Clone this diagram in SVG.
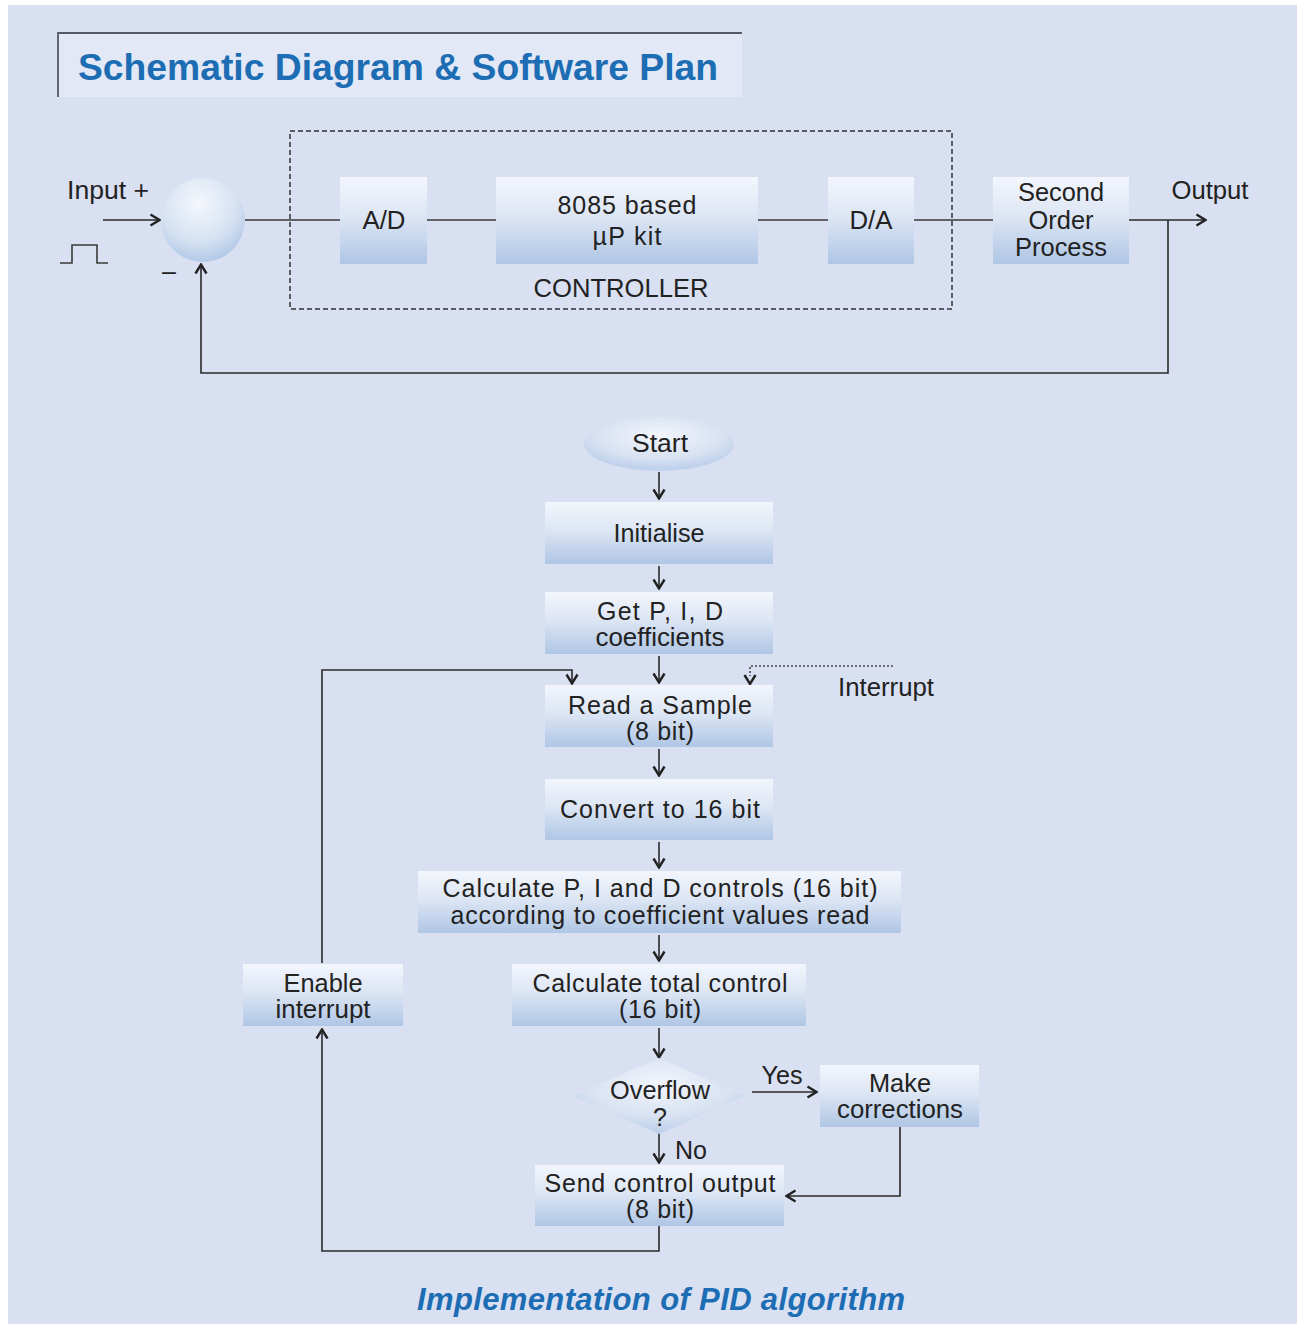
<svg xmlns="http://www.w3.org/2000/svg" width="1297" height="1324" viewBox="0 0 1297 1324">
<defs>
<linearGradient id="box" x1="0" y1="0" x2="0" y2="1">
<stop offset="0" stop-color="#f3f6fc"/>
<stop offset="0.45" stop-color="#dde6f4"/>
<stop offset="1" stop-color="#afc6e5"/>
</linearGradient>
<radialGradient id="ball" cx="0.45" cy="0.3" r="0.75">
<stop offset="0" stop-color="#f4f7fc"/>
<stop offset="0.6" stop-color="#d6e2f2"/>
<stop offset="1" stop-color="#aac4e6"/>
</radialGradient>
<radialGradient id="oval" cx="0.5" cy="0.35" r="0.6">
<stop offset="0" stop-color="#f3f6fc"/>
<stop offset="0.7" stop-color="#d8e2f2"/>
<stop offset="1" stop-color="#c0d2ec"/>
</radialGradient>
<marker id="ah" viewBox="0 0 12 14" refX="11" refY="7" markerWidth="12" markerHeight="14" markerUnits="userSpaceOnUse" orient="auto">
<path d="M1.5,1.5 L10.5,7 L1.5,12.5" fill="none" stroke="#222" stroke-width="2.4"/>
</marker>
</defs>
<style>
.t{font-family:"Liberation Sans",Arial,sans-serif;font-size:25px;fill:#222;text-anchor:middle}
.ln{fill:none;stroke:#3a3a3a;stroke-width:1.6}
.ar{fill:none;stroke:#2a2a2a;stroke-width:1.6;marker-end:url(#ah)}
.bx{fill:url(#box)}
</style>
<rect x="0" y="0" width="1297" height="1324" fill="#ffffff"/>
<rect x="8" y="5" width="1289" height="1319" fill="#d9e0f1"/>

<g id="title">
<rect x="58" y="33" width="684" height="64" fill="#e2e8f5"/>
<path d="M58,97 L58,33 L742,33" fill="none" stroke="#555a66" stroke-width="1.8"/>
<text x="398" y="80" font-family="Liberation Sans,Arial,sans-serif" font-weight="bold" font-size="37" fill="#1c6db4" text-anchor="middle" textLength="640" lengthAdjust="spacingAndGlyphs">Schematic Diagram &amp; Software Plan</text>
</g>

<g id="connectors">
<line class="ar" x1="103" y1="220" x2="160" y2="220"/>
<path class="ln" d="M60,263 L72,263 L72,245 L97,245 L97,263 L108,263"/>
<line class="ln" x1="245" y1="220" x2="340" y2="220"/>
<line class="ln" x1="427" y1="220" x2="496" y2="220"/>
<line class="ln" x1="758" y1="220" x2="828" y2="220"/>
<line class="ln" x1="914" y1="220" x2="993" y2="220"/>
<line class="ar" x1="1129" y1="220" x2="1206" y2="220"/>
<path class="ar" d="M1168,220 L1168,373 L201,373 L201,264"/>
<rect x="290" y="131" width="662" height="178" fill="none" stroke="#333" stroke-width="1.5" stroke-dasharray="5,3"/>

<line class="ar" x1="659" y1="472" x2="659" y2="499"/>
<line class="ar" x1="659" y1="566" x2="659" y2="589"/>
<line class="ar" x1="659" y1="656" x2="659" y2="683"/>
<path class="ar" d="M322,963 L322,670 L572,670 L572,684"/>
<path fill="none" stroke="#444" stroke-width="1.6" stroke-dasharray="2,2" d="M893,666 L750,666 L750,676"/>
<path fill="none" stroke="#222" stroke-width="2.4" d="M744.5,675 L750,684 L755.5,675"/>
<line class="ar" x1="659" y1="749" x2="659" y2="776"/>
<line class="ar" x1="659" y1="842" x2="659" y2="868"/>
<line class="ar" x1="659" y1="935" x2="659" y2="961"/>
<line class="ar" x1="659" y1="1028" x2="659" y2="1058"/>
<line class="ar" x1="752" y1="1092" x2="817" y2="1092"/>
<path class="ar" d="M900,1127 L900,1196 L786,1196"/>
<line class="ar" x1="659" y1="1133" x2="659" y2="1163"/>
<path class="ar" d="M659,1226 L659,1251 L322,1251 L322,1029"/>
</g>

<g id="input-label">
<text class="t" x="108" y="199" textLength="82" lengthAdjust="spacingAndGlyphs">Input +</text>
<text class="t" x="169" y="280">–</text>
</g>
<g id="summer"><circle cx="203" cy="220" r="42" fill="url(#ball)"/></g>
<g id="ad"><rect class="bx" x="340" y="177" width="87" height="87"/><text class="t" x="384" y="229" textLength="43" lengthAdjust="spacingAndGlyphs">A/D</text></g>
<g id="kit"><rect class="bx" x="496" y="177" width="262" height="87"/>
<text class="t" x="627" y="214" textLength="139" lengthAdjust="spacing">8085 based</text>
<text class="t" x="627" y="245" textLength="69" lengthAdjust="spacing">µP kit</text></g>
<g id="controller-label"><text class="t" x="621" y="297" textLength="175" lengthAdjust="spacingAndGlyphs">CONTROLLER</text></g>
<g id="da"><rect class="bx" x="828" y="177" width="86" height="87"/><text class="t" x="871" y="229" textLength="43" lengthAdjust="spacingAndGlyphs">D/A</text></g>
<g id="process"><rect class="bx" x="993" y="177" width="136" height="87"/>
<text class="t" x="1061" y="201" textLength="86" lengthAdjust="spacingAndGlyphs">Second</text>
<text class="t" x="1061" y="229" textLength="65" lengthAdjust="spacingAndGlyphs">Order</text>
<text class="t" x="1061" y="256" textLength="92" lengthAdjust="spacingAndGlyphs">Process</text></g>
<g id="output-label"><text class="t" x="1210" y="199" textLength="77" lengthAdjust="spacingAndGlyphs">Output</text></g>

<g id="start"><ellipse cx="659" cy="444" rx="75" ry="27" fill="url(#oval)"/><text class="t" x="660" y="452" textLength="56" lengthAdjust="spacingAndGlyphs">Start</text></g>
<g id="init"><rect class="bx" x="545" y="502" width="228" height="62"/><text class="t" x="659" y="542" textLength="91" lengthAdjust="spacingAndGlyphs">Initialise</text></g>
<g id="getpid"><rect class="bx" x="545" y="592" width="228" height="62"/>
<text class="t" x="660" y="620" textLength="126" lengthAdjust="spacing">Get P, I, D</text>
<text class="t" x="660" y="646" textLength="129" lengthAdjust="spacingAndGlyphs">coefficients</text></g>
<g id="read"><rect class="bx" x="545" y="685" width="228" height="62"/>
<text class="t" x="660" y="714" textLength="184" lengthAdjust="spacing">Read a Sample</text>
<text class="t" x="660" y="740" textLength="68" lengthAdjust="spacing">(8 bit)</text></g>
<g id="interrupt-label"><text class="t" x="886" y="696" textLength="96" lengthAdjust="spacingAndGlyphs">Interrupt</text></g>
<g id="convert"><rect class="bx" x="545" y="779" width="228" height="61"/>
<text class="t" x="660" y="818" textLength="200" lengthAdjust="spacing">Convert to 16 bit</text></g>
<g id="calcpid"><rect class="bx" x="418" y="871" width="483" height="62"/>
<text class="t" x="660" y="897" textLength="435" lengthAdjust="spacing">Calculate P, I and D controls (16 bit)</text>
<text class="t" x="660" y="924" textLength="419" lengthAdjust="spacing">according to coefficient values read</text></g>
<g id="total"><rect class="bx" x="512" y="964" width="294" height="62"/>
<text class="t" x="660" y="992" textLength="255" lengthAdjust="spacing">Calculate total control</text>
<text class="t" x="660" y="1018" textLength="82" lengthAdjust="spacing">(16 bit)</text></g>
<g id="enable"><rect class="bx" x="243" y="964" width="160" height="62"/>
<text class="t" x="323" y="992" textLength="79" lengthAdjust="spacingAndGlyphs">Enable</text>
<text class="t" x="323" y="1018" textLength="95" lengthAdjust="spacingAndGlyphs">interrupt</text></g>
<g id="overflow"><path d="M659,1058 L745,1096 L659,1134 L573,1096 Z" fill="url(#oval)"/>
<text class="t" x="660" y="1099" textLength="100" lengthAdjust="spacingAndGlyphs">Overflow</text>
<text class="t" x="660" y="1126">?</text></g>
<g id="yes-label"><text class="t" x="782" y="1084" textLength="41" lengthAdjust="spacingAndGlyphs">Yes</text></g>
<g id="make"><rect class="bx" x="820" y="1065" width="159" height="62"/>
<text class="t" x="900" y="1092" textLength="62" lengthAdjust="spacingAndGlyphs">Make</text>
<text class="t" x="900" y="1118" textLength="126" lengthAdjust="spacingAndGlyphs">corrections</text></g>
<g id="no-label"><text class="t" x="691" y="1159" textLength="32" lengthAdjust="spacingAndGlyphs">No</text></g>
<g id="send"><rect class="bx" x="535" y="1165" width="249" height="61"/>
<text class="t" x="660" y="1192" textLength="231" lengthAdjust="spacing">Send control output</text>
<text class="t" x="660" y="1218" textLength="68" lengthAdjust="spacing">(8 bit)</text></g>

<g id="caption"><text x="661" y="1310" font-family="Liberation Sans,Arial,sans-serif" font-weight="bold" font-style="italic" font-size="31" fill="#1c6db4" text-anchor="middle" textLength="488" lengthAdjust="spacing">Implementation of PID algorithm</text></g>
</svg>
